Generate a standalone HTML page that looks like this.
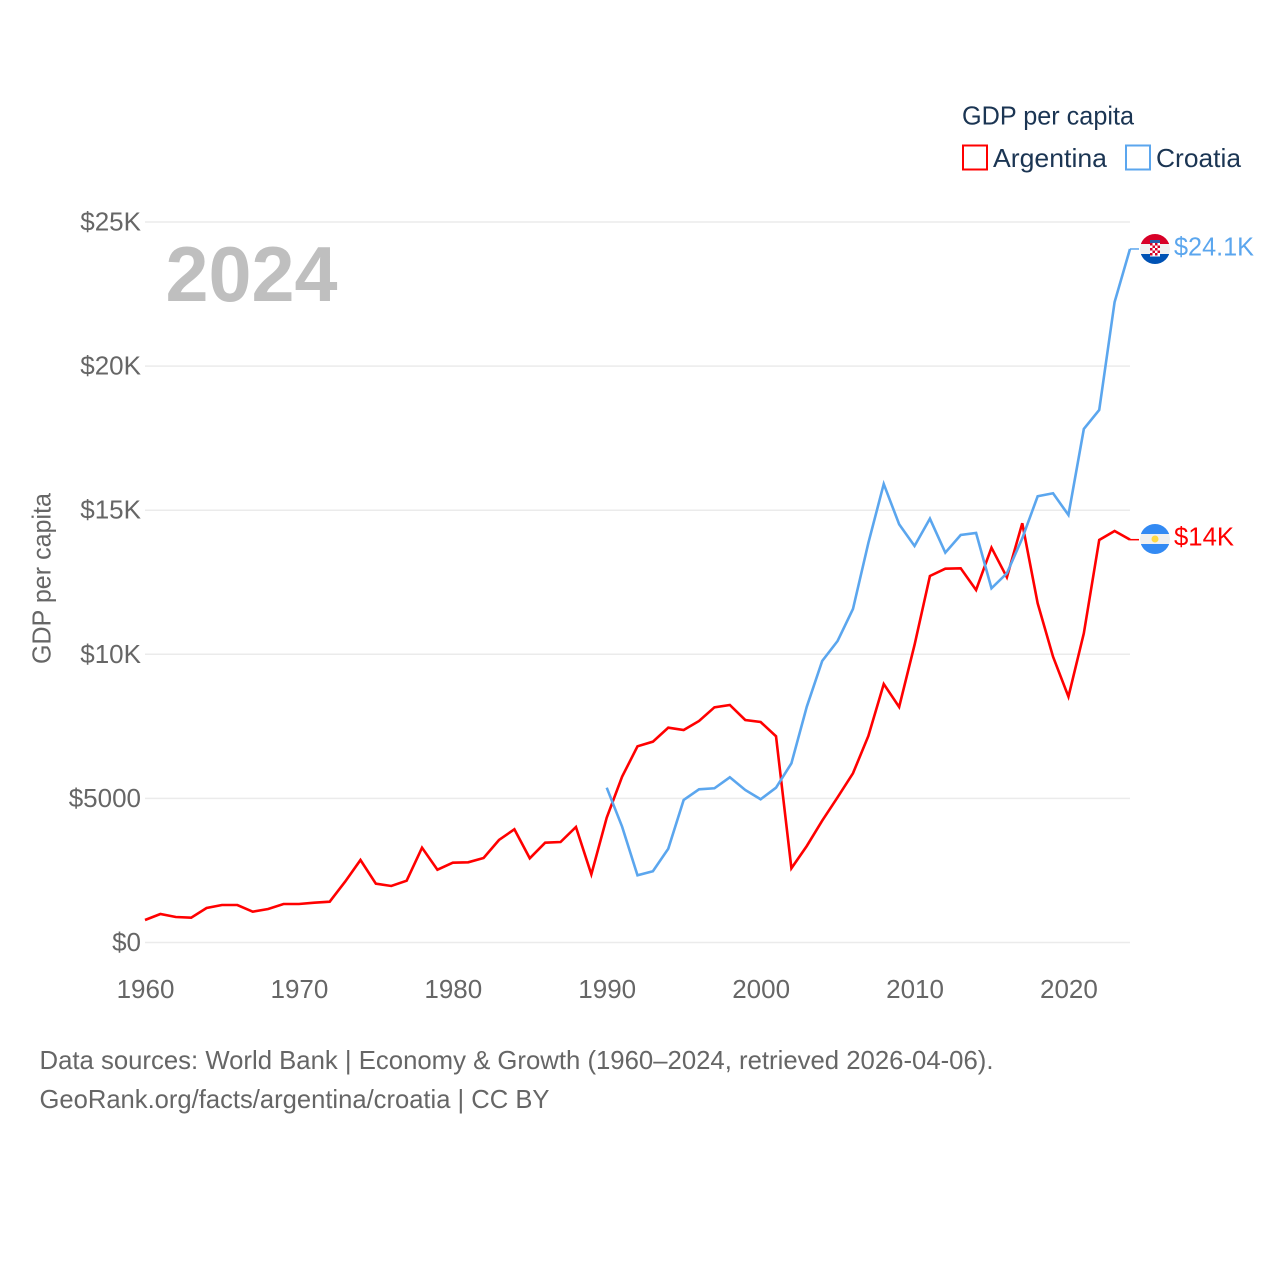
<!DOCTYPE html>
<html lang="en">
<head>
<meta charset="utf-8">
<title>GDP per capita: Argentina and Croatia</title>
<style>
  html, body { margin: 0; padding: 0; background: #ffffff; }
  svg { display: block; font-family: "Liberation Sans", "DejaVu Sans", sans-serif; }
</style>
</head>
<body>
<svg id="chart" xmlns="http://www.w3.org/2000/svg" width="1280" height="1280" viewBox="0 0 1280 1280">
  <defs>
    <clipPath id="flag-clip-hr"><circle cx="1155" cy="249" r="15"/></clipPath>
    <clipPath id="flag-clip-ar"><circle cx="1155" cy="539" r="15"/></clipPath>
  </defs>
  <rect x="0" y="0" width="1280" height="1280" fill="#ffffff"/>

  <g id="grid"></g>
  <g id="y-ticks"></g>
  <g id="x-ticks"></g>

  <text transform="translate(50.5,664) rotate(-90)" font-size="26" fill="#666666" textLength="171" lengthAdjust="spacingAndGlyphs">GDP per capita</text>
  <text x="165.5" y="301" font-size="78" font-weight="700" fill="#bfbfbf" textLength="172" lengthAdjust="spacingAndGlyphs">2024</text>

  <g id="series"></g>

  <g>
    <text x="962" y="124.5" font-size="26" fill="#1b3553" textLength="172" lengthAdjust="spacingAndGlyphs">GDP per capita</text>
    <g>
      <rect x="963" y="145.5" width="24" height="24" fill="none" stroke="#ff0000" stroke-width="2"/>
      <text x="993" y="167" font-size="26" fill="#1b3553" textLength="114" lengthAdjust="spacingAndGlyphs">Argentina</text>
    </g>
    <g>
      <rect x="1126" y="145.5" width="24" height="24" fill="none" stroke="#5ba6ee" stroke-width="2"/>
      <text x="1156" y="167" font-size="26" fill="#1b3553" textLength="85" lengthAdjust="spacingAndGlyphs">Croatia</text>
    </g>
  </g>

  <g clip-path="url(#flag-clip-hr)">
    <rect x="1140" y="234" width="30" height="10" fill="#d80027"/>
    <rect x="1140" y="244" width="30" height="10" fill="#f0f0f0"/>
    <rect x="1140" y="254" width="30" height="10" fill="#0052b4"/>
    <rect x="1150" y="240" width="10" height="3" fill="#2a5fa8"/>
    <rect x="1150" y="243" width="10" height="13.5" fill="#ffffff"/>
    <g fill="#d80027">
      <rect x="1150" y="243" width="2.5" height="2.5"/><rect x="1155" y="243" width="2.5" height="2.5"/>
      <rect x="1152.5" y="245.5" width="2.5" height="2.5"/><rect x="1157.5" y="245.5" width="2.5" height="2.5"/>
      <rect x="1150" y="248" width="2.5" height="2.5"/><rect x="1155" y="248" width="2.5" height="2.5"/>
      <rect x="1152.5" y="250.5" width="2.5" height="2.5"/><rect x="1157.5" y="250.5" width="2.5" height="2.5"/>
      <rect x="1150" y="253" width="2.5" height="2.5"/><rect x="1155" y="253" width="2.5" height="2.5"/>
    </g>
  </g>
  <g clip-path="url(#flag-clip-ar)">
    <rect x="1140" y="524" width="30" height="10" fill="#338af3"/>
    <rect x="1140" y="534" width="30" height="10" fill="#f0f0f0"/>
    <rect x="1140" y="544" width="30" height="10" fill="#338af3"/>
    <circle cx="1155" cy="539" r="3.5" fill="#ffda44"/>
  </g>

  <text id="end-label-hr" x="1174" y="255.5" font-size="26" fill="#5ba6ee" textLength="80" lengthAdjust="spacingAndGlyphs">$24.1K</text>
  <text id="end-label-ar" x="1174" y="545.5" font-size="26" fill="#ff0000" textLength="60" lengthAdjust="spacingAndGlyphs">$14K</text>

  <text x="39.5" y="1069" font-size="26" fill="#666666" textLength="954" lengthAdjust="spacingAndGlyphs">Data sources: World Bank | Economy &amp; Growth (1960–2024, retrieved 2026-04-06).</text>
  <text x="39.5" y="1108" font-size="26" fill="#666666" textLength="510" lengthAdjust="spacingAndGlyphs">GeoRank.org/facts/argentina/croatia | CC BY</text>
</svg>

<script>
const xTickYears = [1960, 1970, 1980, 1990, 2000, 2010, 2020];
const yTickValues = [0, 5000, 10000, 15000, 20000, 25000];
const yTickLabels = ["$0", "$5000", "$10K", "$15K", "$20K", "$25K"];

const argentinaStartYear = 1960;
const argentinaValues = [
  781, 989, 885, 861, 1197, 1301, 1301, 1069, 1162, 1336,
  1336, 1381, 1416, 2110, 2863, 2040, 1961, 2144, 3290, 2526,
  2769, 2783, 2932, 3557, 3928, 2922, 3463, 3487, 4008, 2367,
  4331, 5753, 6808, 6968, 7454, 7374, 7686, 8161, 8241, 7721,
  7651, 7155, 2575, 3349, 4226, 5038, 5871, 7166, 8970, 8172,
  10323, 12718, 12971, 12985, 12232, 13700, 12672, 14546, 11770, 9917,
  8529, 10729, 13967, 14279, 13977
];

const croatiaStartYear = 1990;
const croatiaValues = [
  5372, 4018, 2332, 2471, 3255, 4945, 5316, 5351, 5732, 5292,
  4969, 5372, 6218, 8182, 9768, 10462, 11572, 13863, 15910, 14512,
  13759, 14706, 13526, 14140, 14210, 12291, 12811, 14026, 15483, 15587,
  14834, 17818, 18478, 22225, 24064
];

const SVG_NS = "http://www.w3.org/2000/svg";
const xScale = function (year) { return 145 + (year - 1960) * (1130 - 145) / 64; };
const yScale = function (value) { return 942.5 - value * (942.5 - 222) / 25000; };

const gridGroup = document.getElementById("grid");
const yTickGroup = document.getElementById("y-ticks");
const xTickGroup = document.getElementById("x-ticks");
const seriesGroup = document.getElementById("series");

yTickValues.forEach(function (value, i) {
  const line = document.createElementNS(SVG_NS, "line");
  
  
  line.setAttribute("x1", 145);
  line.setAttribute("x2", 1130);
  line.setAttribute("y1", yScale(value));
  line.setAttribute("y2", yScale(value));
  line.setAttribute("stroke", "#ebebeb");
  line.setAttribute("stroke-width", "1.5");
  gridGroup.appendChild(line);

  const label = document.createElementNS(SVG_NS, "text");
  
  
  label.setAttribute("x", 141);
  label.setAttribute("y", yScale(value) + 8.5);
  label.setAttribute("text-anchor", "end");
  label.setAttribute("font-size", "26");
  label.setAttribute("fill", "#666666");
  label.textContent = yTickLabels[i];
  yTickGroup.appendChild(label);
});

xTickYears.forEach(function (year) {
  const label = document.createElementNS(SVG_NS, "text");
  
  
  label.setAttribute("x", xScale(year) + 0.5);
  label.setAttribute("y", 998);
  label.setAttribute("text-anchor", "middle");
  label.setAttribute("font-size", "26");
  label.setAttribute("fill", "#666666");
  label.textContent = String(year);
  xTickGroup.appendChild(label);
});

function buildPoints(values, startYear) {
  return values.map(function (value, i) {
    return xScale(startYear + i).toFixed(2) + "," + yScale(value).toFixed(2);
  }).join(" ");
}

const argentinaLine = document.createElementNS(SVG_NS, "polyline");


argentinaLine.setAttribute("points", buildPoints(argentinaValues, argentinaStartYear));
argentinaLine.setAttribute("fill", "none");
argentinaLine.setAttribute("stroke", "#ff0000");
argentinaLine.setAttribute("stroke-width", "2.6");
seriesGroup.appendChild(argentinaLine);

const croatiaLine = document.createElementNS(SVG_NS, "polyline");


croatiaLine.setAttribute("points", buildPoints(croatiaValues, croatiaStartYear));
croatiaLine.setAttribute("fill", "none");
croatiaLine.setAttribute("stroke", "#5ba6ee");
croatiaLine.setAttribute("stroke-width", "2.6");
seriesGroup.appendChild(croatiaLine);

const argentinaLast = argentinaValues[argentinaValues.length - 1];
const croatiaLast = croatiaValues[croatiaValues.length - 1];

const argentinaLeader = document.createElementNS(SVG_NS, "line");


argentinaLeader.setAttribute("x1", 1130);
argentinaLeader.setAttribute("x2", 1139);
argentinaLeader.setAttribute("y1", yScale(argentinaLast));
argentinaLeader.setAttribute("y2", yScale(argentinaLast));
argentinaLeader.setAttribute("stroke", "#ff0000");
argentinaLeader.setAttribute("stroke-width", "1.5");
seriesGroup.appendChild(argentinaLeader);

const croatiaLeader = document.createElementNS(SVG_NS, "line");


croatiaLeader.setAttribute("x1", 1130);
croatiaLeader.setAttribute("x2", 1139);
croatiaLeader.setAttribute("y1", yScale(croatiaLast));
croatiaLeader.setAttribute("y2", yScale(croatiaLast));
croatiaLeader.setAttribute("stroke", "#5ba6ee");
croatiaLeader.setAttribute("stroke-width", "1.5");
seriesGroup.appendChild(croatiaLeader);
</script>
</body>
</html>
